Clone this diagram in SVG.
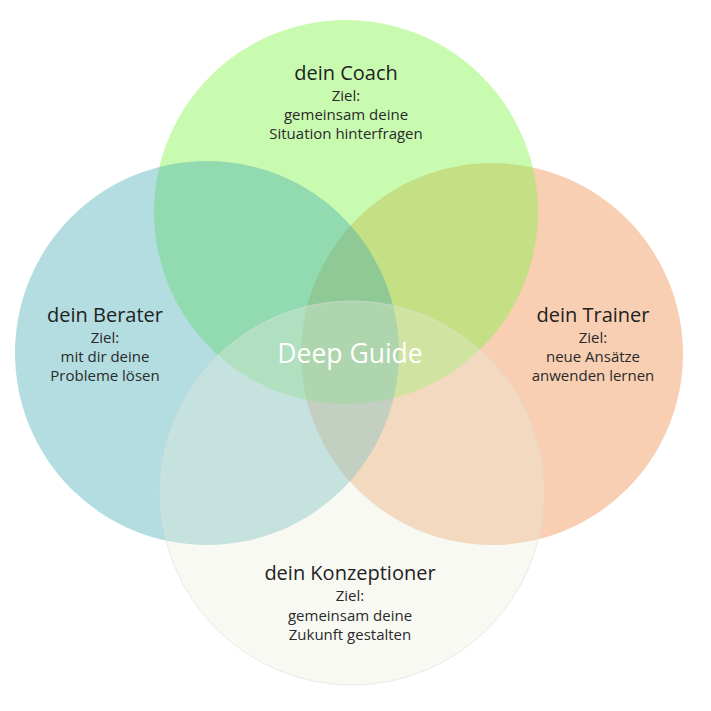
<svg xmlns="http://www.w3.org/2000/svg" width="711" height="711" viewBox="0 0 711 711">
<style>
.title{font-family:"Open Sans","Noto Sans",sans-serif;font-size:20px;font-weight:500;fill:#222;text-anchor:middle}
.body{font-family:"Open Sans","Noto Sans",sans-serif;font-size:15px;font-weight:400;fill:#2a2a2a;text-anchor:middle}
.center{font-family:"Open Sans","Noto Sans",sans-serif;font-size:26.5px;fill:#ffffff;text-anchor:middle}
</style>
<rect width="711" height="711" fill="#ffffff"/>
<g id="trainer">
<circle cx="492" cy="354" r="191" fill="rgb(248,207,179)"/>
</g>
<g id="coach">
<circle cx="346" cy="212" r="192" fill="rgb(124,245,67)" fill-opacity="0.42"/>
</g>
<g id="berater">
<circle cx="207" cy="353" r="192" fill="rgb(65,170,178)" fill-opacity="0.4"/>
</g>
<g id="konzeptioner">
<circle cx="352" cy="493" r="192" fill="rgb(236,236,222)" fill-opacity="0.33" stroke="#dcdcdc" stroke-width="0.6"/>
</g>
<g id="connectors"></g>
<g id="labels">
<text class="title" x="346" y="80">dein Coach</text>
<text class="body" x="346" y="101">Ziel:</text>
<text class="body" x="346" y="120">gemeinsam deine</text>
<text class="body" x="346" y="139">Situation hinterfragen</text>

<text class="title" x="105" y="322">dein Berater</text>
<text class="body" x="105" y="343">Ziel:</text>
<text class="body" x="105" y="362">mit dir deine</text>
<text class="body" x="105" y="381">Probleme lösen</text>

<text class="title" x="593" y="322">dein Trainer</text>
<text class="body" x="593" y="343">Ziel:</text>
<text class="body" x="593" y="362">neue Ansätze</text>
<text class="body" x="593" y="381">anwenden lernen</text>

<text class="title" x="350" y="580">dein Konzeptioner</text>
<text class="body" x="350" y="601">Ziel:</text>
<text class="body" x="350" y="621">gemeinsam deine</text>
<text class="body" x="350" y="640">Zukunft gestalten</text>

<text class="center" x="350" y="363">Deep Guide</text>
</g>
</svg>
